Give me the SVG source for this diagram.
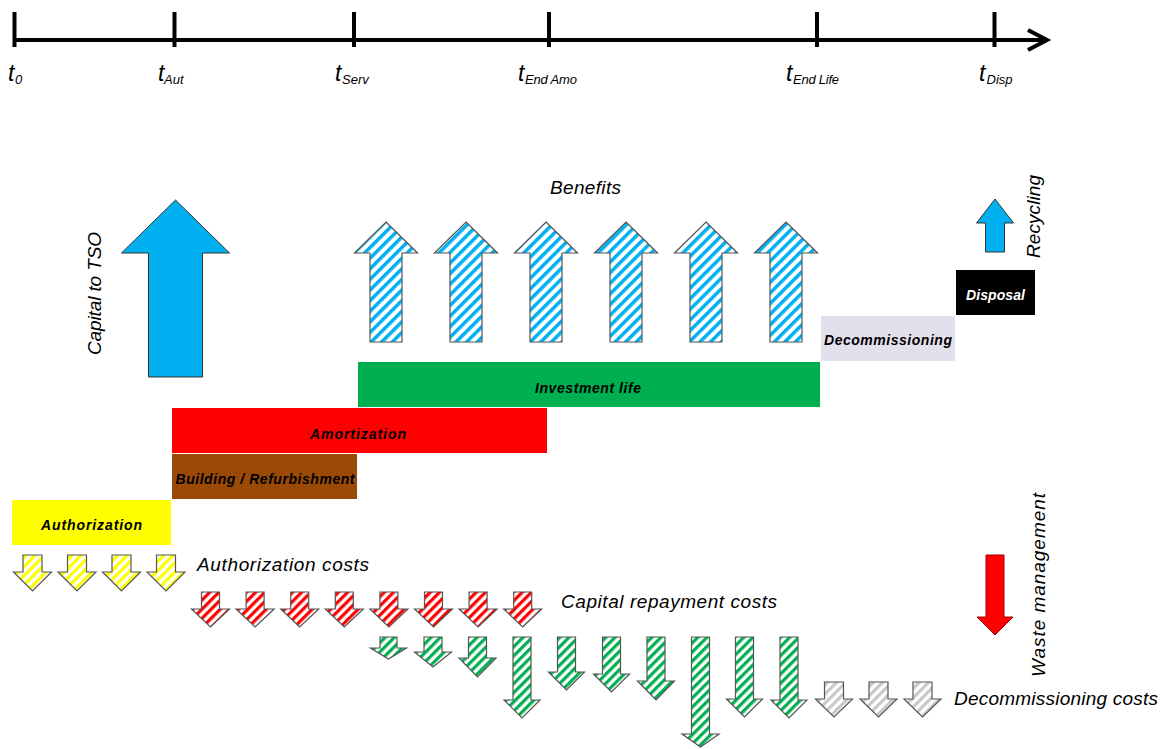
<svg xmlns="http://www.w3.org/2000/svg" width="1170" height="749" viewBox="0 0 1170 749">
<defs>
<pattern id="hBlue" width="7.5" height="7.5" patternUnits="userSpaceOnUse" patternTransform="rotate(45)"><rect width="7.5" height="7.5" fill="#fff"/><rect width="3.5" height="7.5" fill="#00B0F0"/></pattern>
<pattern id="hYellow" width="6.5" height="6.5" patternUnits="userSpaceOnUse" patternTransform="rotate(45)"><rect width="6.5" height="6.5" fill="#fff"/><rect width="3.2" height="6.5" fill="#FFFF00"/></pattern>
<pattern id="hRed" width="6.5" height="6.5" patternUnits="userSpaceOnUse" patternTransform="rotate(45)"><rect width="6.5" height="6.5" fill="#fff"/><rect width="3.2" height="6.5" fill="#FF0000"/></pattern>
<pattern id="hGreen" width="6.5" height="6.5" patternUnits="userSpaceOnUse" patternTransform="rotate(45)"><rect width="6.5" height="6.5" fill="#fff"/><rect width="3.2" height="6.5" fill="#00B050"/></pattern>
<pattern id="hGrey" width="6.5" height="6.5" patternUnits="userSpaceOnUse" patternTransform="rotate(45)"><rect width="6.5" height="6.5" fill="#fff"/><rect width="3.2" height="6.5" fill="#C8C8C8"/></pattern>
</defs>
<style>
text{font-family:"Liberation Sans",Arial,sans-serif;font-style:italic;fill:#000}
.t{font-size:23px}
.sub{font-size:13px}
.lbl{font-size:19px}
.bar{font-size:14px;font-weight:bold;text-anchor:middle}
.ha{stroke:#555;stroke-width:1.2;stroke-linejoin:miter}
.axis{stroke:#000;stroke-width:4;fill:none}
</style>
<rect width="1170" height="749" fill="#fff"/>

<g id="timeline">
<line class="axis" x1="14" y1="40" x2="1046" y2="40"/>
<polyline class="axis" points="1028,30 1047,40 1028,50"/>
<line class="axis" x1="14.5" y1="12" x2="14.5" y2="47"/>
<line class="axis" x1="174.5" y1="12" x2="174.5" y2="47"/>
<line class="axis" x1="354" y1="12" x2="354" y2="47"/>
<line class="axis" x1="549" y1="12" x2="549" y2="47"/>
<line class="axis" x1="817" y1="12" x2="817" y2="47"/>
<line class="axis" x1="994.5" y1="12" x2="994.5" y2="47"/>
<text class="t" x="8" y="81">t</text><text class="sub" x="15" y="84">0</text>
<text class="t" x="158" y="81">t</text><text class="sub" x="164" y="84">Aut</text>
<text class="t" x="335" y="81">t</text><text class="sub" x="342" y="84">Serv</text>
<text class="t" x="518" y="81">t</text><text class="sub" x="525" y="84" textLength="52">End Amo</text>
<text class="t" x="786" y="81">t</text><text class="sub" x="793" y="84" textLength="46">End Life</text>
<text class="t" x="979" y="81">t</text><text class="sub" x="986.5" y="84">Disp</text>
</g>

<g id="capital">
<polygon points="175.5,200 229.5,253 202.5,253 202.5,377 148.5,377 148.5,253 121.5,253" fill="#00B0F0" stroke="#333" stroke-width="1"/>
<text class="lbl" transform="translate(101,293.5) rotate(-90)" text-anchor="middle" textLength="123">Capital to TSO</text>
</g>

<g id="benefits">
<text class="lbl" x="585.5" y="194" text-anchor="middle" textLength="71">Benefits</text>
<g fill="url(#hBlue)" class="ha">
<polygon points="386,222 417.5,253 402,253 402,342 370,342 370,253 354.5,253"/>
<polygon points="466,222 497.5,253 482,253 482,342 450,342 450,253 434.5,253"/>
<polygon points="546,222 577.5,253 562,253 562,342 530,342 530,253 514.5,253"/>
<polygon points="626,222 657.5,253 642,253 642,342 610,342 610,253 594.5,253"/>
<polygon points="706,222 737.5,253 722,253 722,342 690,342 690,253 674.5,253"/>
<polygon points="786,222 817.5,253 802,253 802,342 770,342 770,253 754.5,253"/>
</g>
</g>

<g id="investment-life">
<rect x="358" y="362" width="462" height="45" fill="#00B050"/>
<text class="bar" x="588" y="393" textLength="106">Investment life</text>
</g>
<g id="amortization">
<rect x="172" y="408" width="375" height="45" fill="#FF0000"/>
<text class="bar" x="358" y="439" textLength="96">Amortization</text>
</g>
<g id="building">
<rect x="172" y="454" width="185" height="45" fill="#9A4A06"/>
<text class="bar" x="265" y="484" textLength="179">Building / Refurbishment</text>
</g>
<g id="authorization">
<rect x="12" y="500" width="159" height="45" fill="#FFFF00"/>
<text class="bar" x="91.5" y="530" textLength="101">Authorization</text>
</g>
<g id="decommissioning">
<rect x="821" y="316" width="134" height="45" fill="#E4DFEC"/>
<text class="bar" x="888" y="345" textLength="128">Decommissioning</text>
</g>
<g id="disposal">
<rect x="956" y="270" width="79" height="45" fill="#000"/>
<text class="bar" x="995.5" y="300" style="fill:#fff" textLength="59">Disposal</text>
</g>

<g id="recycling">
<polygon points="995,199 1013.5,223 1004.5,223 1004.5,252 985.5,252 985.5,223 976.5,223" fill="#00B0F0" stroke="#333" stroke-width="1"/>
<text class="lbl" transform="translate(1040,216.5) rotate(-90)" text-anchor="middle" textLength="83">Recycling</text>
</g>

<g id="waste-management">
<polygon points="986,555 1004,555 1004,617 1013,617 995,635 977,617 986,617" fill="#FF0000" stroke="#A00000" stroke-width="1"/>
<text class="lbl" transform="translate(1045,585) rotate(-90)" text-anchor="middle" textLength="184">Waste management</text>
</g>

<g id="authorization-costs">
<g fill="url(#hYellow)" class="ha">
<polygon points="23,555 42,555 42,572 51.5,572 32.5,591 13.5,572 23,572"/>
<polygon points="67.5,555 86.5,555 86.5,572 96,572 77,591 58,572 67.5,572"/>
<polygon points="112,555 131,555 131,572 140.5,572 121.5,591 102.5,572 112,572"/>
<polygon points="156.5,555 175.5,555 175.5,572 185,572 166,591 147,572 156.5,572"/>
</g>
<text class="lbl" x="197" y="571" textLength="172">Authorization costs</text>
</g>

<g id="capital-repayment-costs">
<g fill="url(#hRed)" class="ha">
<polygon points="201.5,592 219.5,592 219.5,609 229.5,609 210.5,627 191.5,609 201.5,609"/>
<polygon points="246.1,592 264.1,592 264.1,609 274.1,609 255.1,627 236.1,609 246.1,609"/>
<polygon points="290.7,592 308.7,592 308.7,609 318.7,609 299.7,627 280.7,609 290.7,609"/>
<polygon points="335.3,592 353.3,592 353.3,609 363.3,609 344.3,627 325.3,609 335.3,609"/>
<polygon points="379.9,592 397.9,592 397.9,609 407.9,609 388.9,627 369.9,609 379.9,609"/>
<polygon points="424.5,592 442.5,592 442.5,609 452.5,609 433.5,627 414.5,609 424.5,609"/>
<polygon points="469.1,592 487.1,592 487.1,609 497.1,609 478.1,627 459.1,609 469.1,609"/>
<polygon points="513.7,592 531.7,592 531.7,609 541.7,609 522.7,627 503.7,609 513.7,609"/>
</g>
<text class="lbl" x="561" y="608" textLength="216">Capital repayment costs</text>
</g>

<g id="decommissioning-investment-costs">
<g fill="url(#hGreen)" class="ha">
<polygon points="380,637 397,637 397,648 406.5,648 388.5,659 370.5,648 380,648"/>
<polygon points="424,637 442,637 442,652 451.5,652 433,667 414.5,652 424,652"/>
<polygon points="468.5,637 486.5,637 486.5,658 496,658 477.5,677 459,658 468.5,658"/>
<polygon points="513,637 531,637 531,700 540,700 522,718 504,700 513,700"/>
<polygon points="557.5,637 575.5,637 575.5,672 584.5,672 566.5,690 548.5,672 557.5,672"/>
<polygon points="602.5,637 620.5,637 620.5,674 629.5,674 611.5,692 593.5,674 602.5,674"/>
<polygon points="647,637 665,637 665,681 674.5,681 656,700 637.5,681 647,681"/>
<polygon points="691.5,637 709.5,637 709.5,734 719,734 700.5,747 682,734 691.5,734"/>
<polygon points="735.5,637 753.5,637 753.5,699 762.5,699 744.5,717 726.5,699 735.5,699"/>
<polygon points="780,637 798,637 798,700 807,700 789,718 771,700 780,700"/>
</g>
</g>

<g id="decommissioning-costs">
<g fill="url(#hGrey)" class="ha">
<polygon points="824.5,682 843.5,682 843.5,699 852.5,699 834,717 815.5,699 824.5,699"/>
<polygon points="869,682 888,682 888,699 897,699 878.5,717 860,699 869,699"/>
<polygon points="913,682 932,682 932,699 941,699 922.5,717 904,699 913,699"/>
</g>
<text class="lbl" x="954" y="705" textLength="204">Decommissioning costs</text>
</g>
</svg>
